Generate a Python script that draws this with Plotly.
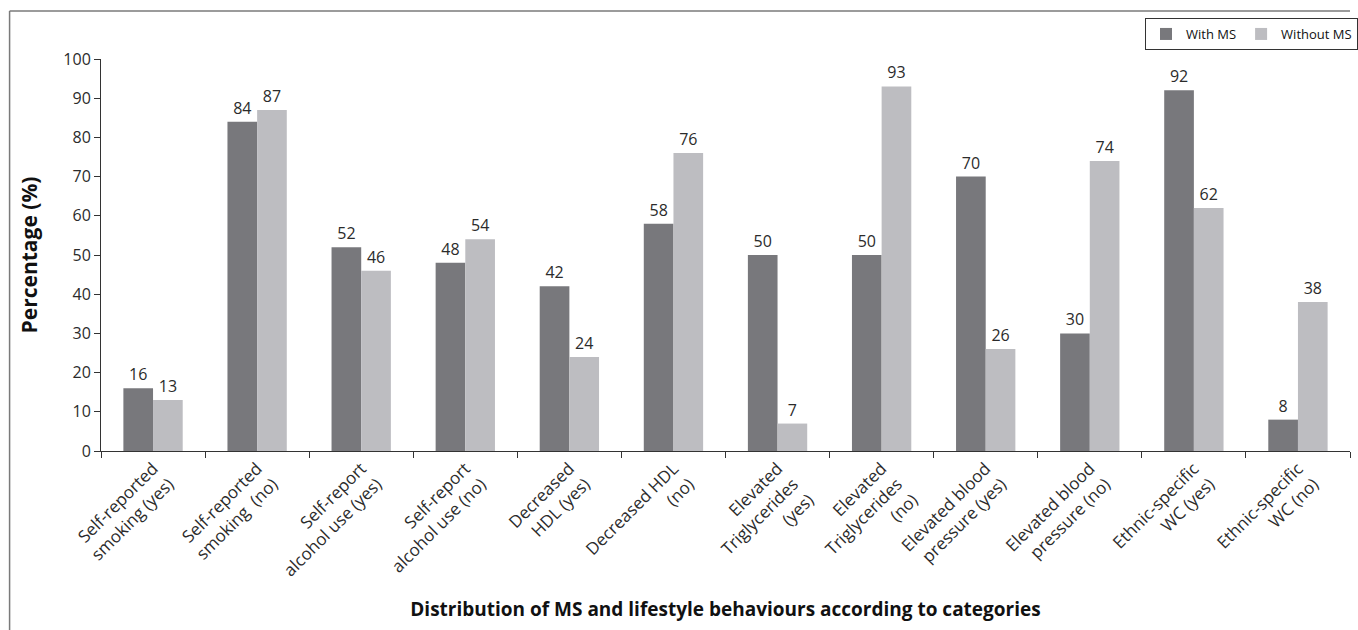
import plotly.graph_objects as go

categories = [
    "Self-reported<br>smoking (yes)",
    "Self-reported<br>smoking  (no)",
    "Self-report<br>alcohol use (yes)",
    "Self-report<br>alcohol use (no)",
    "Decreased<br>HDL (yes)",
    "Decreased HDL<br>(no)",
    "Elevated<br>Triglycerides<br>(yes)",
    "Elevated<br>Triglycerides<br>(no)",
    "Elevated blood<br>pressure (yes)",
    "Elevated blood<br>pressure (no)",
    "Ethnic-specific<br>WC (yes)",
    "Ethnic-specific<br>WC (no)",
]
with_ms = [16, 84, 52, 48, 42, 58, 50, 50, 70, 30, 92, 8]
without_ms = [13, 87, 46, 54, 24, 76, 7, 93, 26, 74, 62, 38]
y_ticks = list(range(0, 101, 10))

FONT = "Open Sans"
TXT = "#2b2b2b"

fig = go.Figure()
fig.add_trace(go.Bar(
    x=categories, y=with_ms, name="With MS",
    marker=dict(color="#78787c", line=dict(width=0)),
    text=[str(v) for v in with_ms], textposition="outside",
    textfont=dict(family=FONT, size=16, color=TXT), cliponaxis=False,
))
fig.add_trace(go.Bar(
    x=categories, y=without_ms, name="Without MS",
    marker=dict(color="#bdbdc1", line=dict(width=0)),
    text=[str(v) for v in without_ms], textposition="outside",
    textfont=dict(family=FONT, size=16, color=TXT), cliponaxis=False,
))

fig.update_layout(
    width=1358, height=630,
    margin=dict(l=101, r=0, t=59, b=179),
    paper_bgcolor="white", plot_bgcolor="white",
    barmode="group", bargap=0.43, bargroupgap=0,
    font=dict(family=FONT, size=16, color=TXT),
    showlegend=True,
    legend=dict(
        orientation="h", x=(1152 - 101) / 1257, y=1 + (59 - 18) / 392,
        xanchor="left", yanchor="top",
        bordercolor="#333", borderwidth=1, bgcolor="white",
        font=dict(family=FONT, size=13, color="#111"),
        itemwidth=30, tracegroupgap=0,
    ),
)

fig.update_xaxes(
    type="category", tickangle=-45, tickson="boundaries",
    ticks="outside", ticklen=6, tickcolor="#333", tickwidth=1,
    showline=True, linecolor="#333", linewidth=1,
    showgrid=False, zeroline=False,
    tickfont=dict(family=FONT, size=17, color=TXT),
    title=dict(
        text="<b>Distribution of MS and lifestyle behaviours according to categories</b>",
        font=dict(family=FONT, size=19, color="#111"), standoff=22,
    ),
    automargin=False,
)
fig.update_yaxes(
    range=[0, 100], tickvals=y_ticks,
    ticks="outside", ticklen=6, tickcolor="#333", tickwidth=1,
    showline=True, linecolor="#333", linewidth=1,
    showgrid=False, zeroline=False,
    tickfont=dict(family=FONT, size=16, color=TXT),
    title=dict(text="<b>Percentage (%)</b>",
               font=dict(family=FONT, size=21, color="#111"), standoff=19),
    automargin=False,
)

# outer frame (top and left edges)
frame_x = (9 - 101) / 1257
frame_top = 1 + (59 - 11) / 392
frame_bottom = -(630 - 451) / 392
fig.add_shape(type="line", xref="paper", yref="paper",
              x0=frame_x, x1=1.0, y0=frame_top, y1=frame_top,
              line=dict(color="#7a7a7a", width=1.5))
fig.add_shape(type="line", xref="paper", yref="paper",
              x0=frame_x, x1=frame_x, y0=frame_top, y1=frame_bottom,
              line=dict(color="#7a7a7a", width=1.5))

fig.write_html("out.html")
